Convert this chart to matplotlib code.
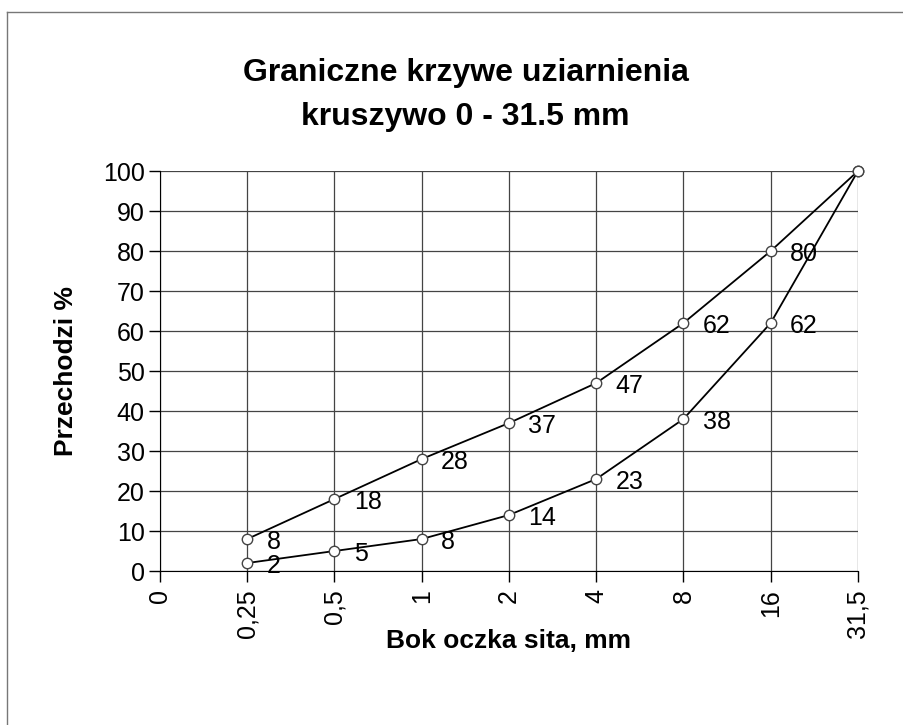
import matplotlib.pyplot as plt
from matplotlib.lines import Line2D

# graniczne krzywe uziarnienia, kruszywo 0-31.5 mm
sita = ['0', '0,25', '0,5', '1', '2', '4', '8', '16', '31,5']
gorna = [8, 18, 28, 37, 47, 62, 80, 100]
dolna = [2, 5, 8, 14, 23, 38, 62, 100]

plt.rcParams['font.family'] = ['Liberation Sans', 'DejaVu Sans']

fig = plt.figure(figsize=(9.04, 7.25), dpi=100)
ax = fig.add_axes([0.177, 0.2124, 0.772, 0.5516])

x = list(range(1, len(sita)))
for seria in (gorna, dolna):
    ax.plot(x, seria, color='black', lw=1.3, marker='o', ms=7.5,
            mfc='white', mec='#444444', mew=1.0, zorder=3, clip_on=False)
    for xi, yi in zip(x[:-1], seria[:-1]):
        ax.annotate(str(yi), (xi, yi), xytext=(14, -2), textcoords='offset points',
                    fontsize=18, ha='left', va='center', zorder=4)

ax.set_xlim(0, len(sita) - 1)
ax.set_ylim(0, 100)
ax.set_xticks(range(len(sita)))
ax.set_xticklabels(sita, rotation=90, fontsize=18)
ax.set_yticks(range(0, 101, 10))
ax.tick_params(axis='y', labelsize=18, length=8, width=1, direction='out', pad=3)
ax.tick_params(axis='x', length=8, width=1, direction='out', pad=5)
ax.grid(True, color='#444444', lw=0.9)
ax.set_axisbelow(True)
for s in ax.spines.values():
    s.set_visible(False)
ax.spines['bottom'].set_visible(True)
ax.spines['left'].set_visible(True)

ax.set_ylabel('Przechodzi %', fontsize=19, fontweight='bold')
ax.yaxis.set_label_coords(-0.117, 0.5)
ax.set_xlabel('Bok oczka sita, mm', fontsize=19, fontweight='bold')
ax.xaxis.set_label_coords(0.5, -0.145)

fig.text(0.515, 0.869, 'Graniczne krzywe uziarnienia\nkruszywo 0 - 31.5 mm',
         ha='center', va='center', fontsize=23, fontweight='bold', linespacing=1.62)

# ramka skanu: tylko gorna i lewa krawedz
fig.lines.append(Line2D([0.008, 1.0], [0.983, 0.983], transform=fig.transFigure,
                        color='#777777', lw=1))
fig.lines.append(Line2D([0.008, 0.008], [0.0, 0.983], transform=fig.transFigure,
                        color='#777777', lw=1))

fig.savefig('out.png', dpi=100)
